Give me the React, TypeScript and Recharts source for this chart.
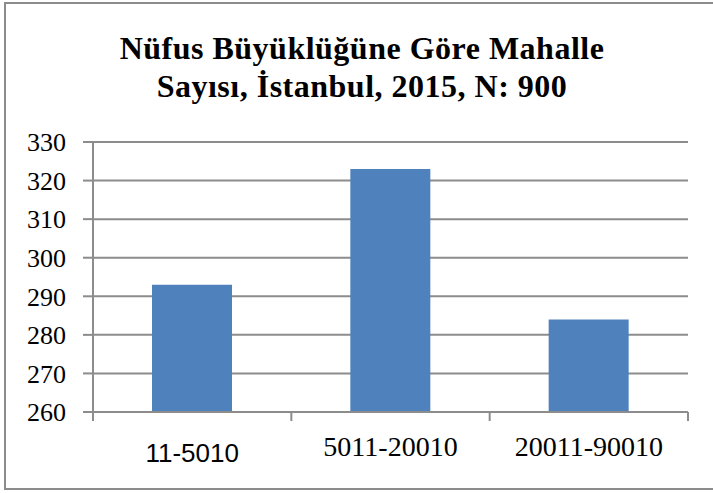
import { BarChart, Bar, XAxis, YAxis, CartesianGrid } from 'recharts';

// Nüfus büyüklüğü grupları ve mahalle sayıları
const categories = ['11-5010', '5011-20010', '20011-90010'];
const counts = [293, 323, 284];
const yTicks = [260, 270, 280, 290, 300, 310, 320, 330];

const data = categories.map((name, i) => ({ name, value: counts[i] }));

const GREY = '#8c8c8c';

function CategoryTick(props: any) {
  const { x, y, payload, index } = props;
  const half = payload && payload.offset ? payload.offset : 99;
  const first = index === 0;
  return (
    <g>
      <line x1={x - half} y1={y} x2={x - half} y2={y + 9} stroke={GREY} strokeWidth={2} />
      {index === categories.length - 1 && (
        <line x1={x + half} y1={y} x2={x + half} y2={y + 9} stroke={GREY} strokeWidth={2} />
      )}
      <text
        x={x}
        y={first ? y + 50 : y + 44}
        textAnchor="middle"
        fill="#000"
        fontSize={first ? 26 : 28}
        fontFamily={first ? '"Liberation Sans", Arial, sans-serif' : '"Liberation Serif", serif'}
      >
        {payload.value}
      </text>
    </g>
  );
}

export default function App() {
  return (
    <div style={{ position: 'absolute', left: 0, top: 0, width: 713, height: 493, overflow: 'hidden', background: '#fff' }}>
      <div
        style={{
          position: 'absolute',
          left: 4,
          top: 2,
          width: 740,
          height: 488,
          border: `2px solid ${GREY}`,
          boxSizing: 'border-box',
        }}
      />
      <div
        style={{
          position: 'absolute',
          left: 0,
          top: 29,
          width: 724,
          textAlign: 'center',
          fontFamily: '"Liberation Serif", serif',
          fontWeight: 'bold',
          fontSize: 32,
          lineHeight: '38px',
          letterSpacing: 0.5,
          color: '#000',
        }}
      >
        <div>Nüfus Büyüklüğüne Göre Mahalle</div>
        <div>Sayısı, İstanbul, 2015, N: 900</div>
      </div>
      <div style={{ position: 'absolute', left: 0, top: 0 }}>
        <BarChart width={713} height={493} data={data} margin={{ top: 142, right: 25, left: 0, bottom: 0 }}>
          <CartesianGrid vertical={false} stroke={GREY} strokeWidth={2} />
          <XAxis
            dataKey="name"
            height={81}
            tickLine={false}
            tickSize={0}
            tickMargin={0}
            axisLine={{ stroke: GREY, strokeWidth: 2 }}
            tick={<CategoryTick />}
            interval={0}
          />
          <YAxis
            width={93}
            domain={[260, 330]}
            ticks={yTicks}
            interval={0}
            tickSize={10}
            tickMargin={17}
            axisLine={{ stroke: GREY, strokeWidth: 2 }}
            tickLine={{ stroke: GREY, strokeWidth: 2 }}
            tick={{ fill: '#000', fontSize: 26, fontFamily: '"Liberation Serif", serif' }}
            allowDataOverflow
          />
          <Bar dataKey="value" fill="#4f81bd" barSize={80} isAnimationActive={false} />
        </BarChart>
      </div>
    </div>
  );
}
